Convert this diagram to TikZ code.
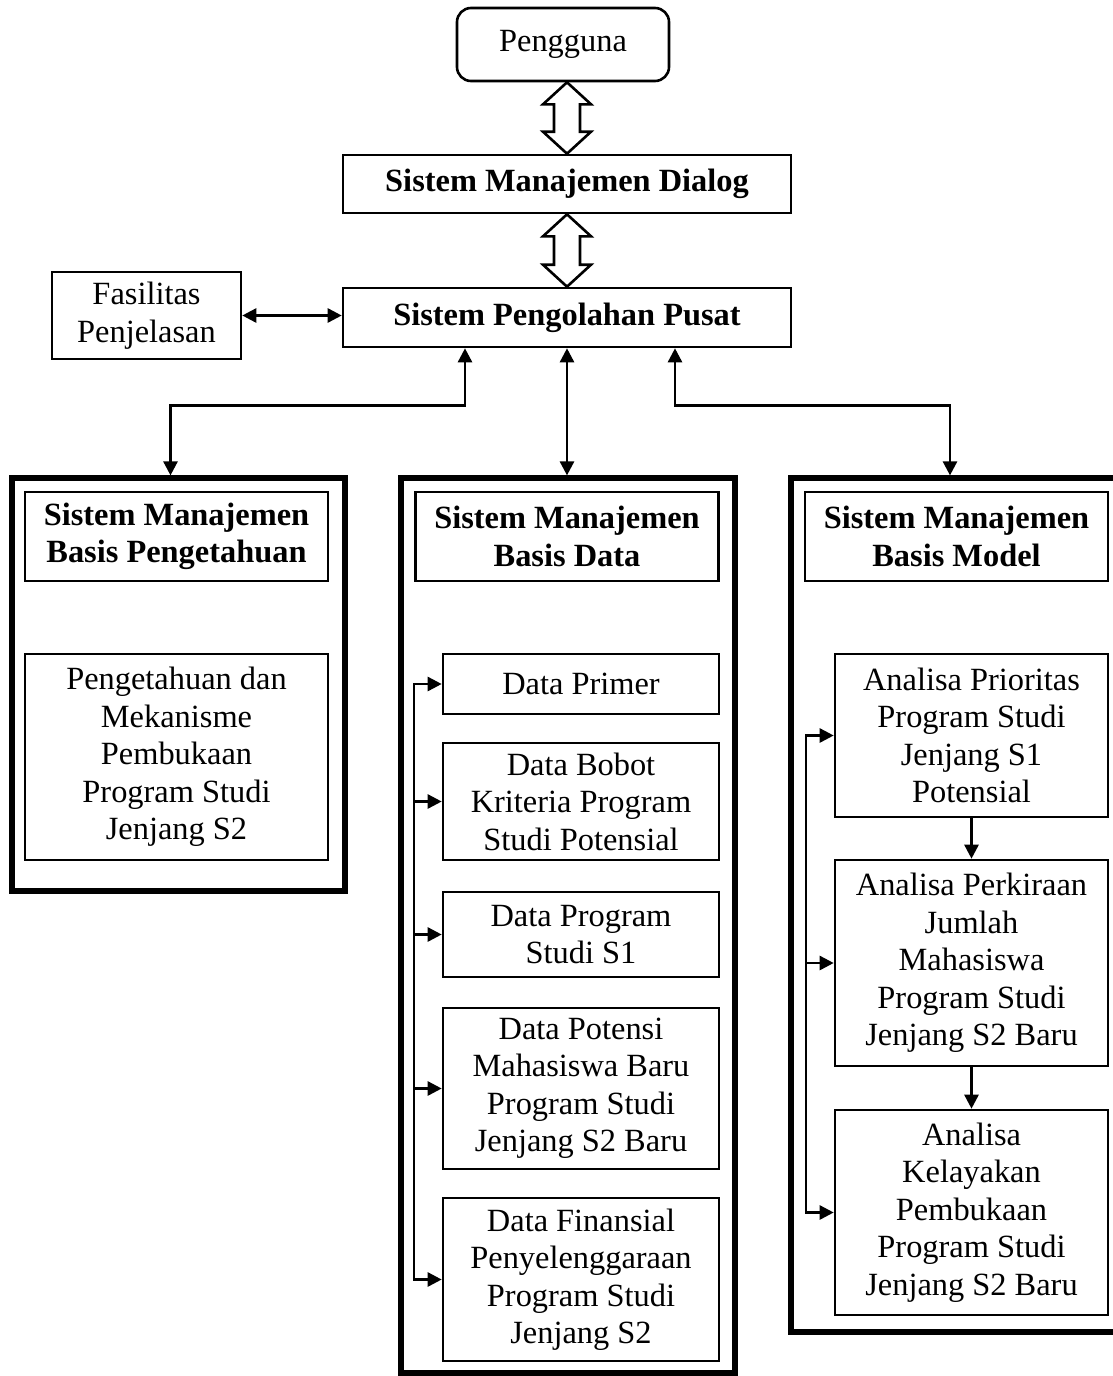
\documentclass[tikz,border=0pt]{standalone}
\usepackage{fontspec}
\setmainfont{Liberation Serif}
\usetikzlibrary{arrows.meta,calc}

\begin{document}
\begin{tikzpicture}[x=.5pt,y=-.5pt,
  txtbox/.style={draw,line width=1.3pt,align=center,inner sep=0pt,fill=white,
    font=\fontsize{16.2}{18.75}\selectfont},
  titlebox/.style={txtbox,font=\fontsize{16.2}{18.75}\selectfont\bfseries},
  colbox/.style={draw,line width=2.6pt,inner sep=0pt},
  link/.style={line width=1.3pt,-{Triangle[length=7pt,width=7pt]}},
  twoway/.style={line width=1.3pt,{Triangle[length=7pt,width=7pt]}-{Triangle[length=7pt,width=7pt]}}]

\useasboundingbox (0,0) rectangle (1113,1376);

\def\hollow#1#2{\draw[line width=1.3pt,fill=white,line join=miter]
  (#1) -- ++(24,22) -- ++(-11,0) -- ($(#2)+(13,-22)$) -- ++(11,0) -- (#2)
  -- ++(-24,-22) -- ++(11,0) -- ($(#1)+(-13,22)$) -- ++(-11,0) -- cycle;}

% top part
\node[txtbox,rounded corners=7pt,minimum width=106pt,minimum height=36.5pt] (user) at (563,44.5) {Pengguna};
\node[titlebox,minimum width=224pt,minimum height=29pt] (dialog) at (567,184) {Sistem Manajemen Dialog};
\node[titlebox,minimum width=224pt,minimum height=29.5pt] (pusat) at (567,317.5) {Sistem Pengolahan Pusat};
\node[txtbox,minimum width=94.5pt,minimum height=43.5pt] (fasilitas) at (146.5,315.5) {Fasilitas\\Penjelasan};

% three columns
\node[colbox,minimum width=166.5pt,minimum height=206.5pt] (kbase) at (178.5,684.5) {};
\node[colbox,minimum width=167pt,minimum height=447.5pt] (dbase) at (568,925.5) {};
\node[colbox,minimum width=166.5pt,minimum height=427pt] (mbase) at (957.5,905) {};

\node[titlebox,minimum width=151.5pt,minimum height=44.5pt] (khead) at (176.5,536.5) {Sistem Manajemen\\Basis Pengetahuan};
\node[titlebox,minimum width=151.5pt,minimum height=44.5pt] (dhead) at (567,536.5) {Sistem Manajemen\\Basis Data};
\node[titlebox,minimum width=151.5pt,minimum height=44.5pt] (mhead) at (956.5,536.5) {Sistem Manajemen\\Basis Model};

\node[txtbox,minimum width=151.5pt,minimum height=103pt] (k1) at (176.5,757) {Pengetahuan dan\\Mekanisme\\Pembukaan\\Program Studi\\Jenjang S2};

\node[txtbox,minimum width=138pt,minimum height=30pt] (d1) at (581,684) {Data Primer};
\node[txtbox,minimum width=138pt,minimum height=58.5pt] (d2) at (581,801.5) {Data Bobot\\Kriteria Program\\Studi Potensial};
\node[txtbox,minimum width=138pt,minimum height=42.5pt] (d3) at (581,934.5) {Data Program\\Studi S1};
\node[txtbox,minimum width=138pt,minimum height=80.5pt] (d4) at (581,1088.5) {Data Potensi\\Mahasiswa Baru\\Program Studi\\Jenjang S2 Baru};
\node[txtbox,minimum width=138pt,minimum height=81.5pt] (d5) at (581,1279.5) {Data Finansial\\Penyelenggaraan\\Program Studi\\Jenjang S2};

\node[txtbox,minimum width=136.5pt,minimum height=81.5pt] (m1) at (971.5,735.5) {Analisa Prioritas\\Program Studi\\Jenjang S1\\Potensial};
\node[txtbox,minimum width=136.5pt,minimum height=103pt] (m2) at (971.5,963) {Analisa Perkiraan\\Jumlah\\Mahasiswa\\Program Studi\\Jenjang S2 Baru};
\node[txtbox,minimum width=136.5pt,minimum height=102.5pt] (m3) at (971.5,1212.5) {Analisa\\Kelayakan\\Pembukaan\\Program Studi\\Jenjang S2 Baru};

% connectors
\hollow{dialog.north |- user.south}{dialog.north}
\hollow{pusat.north |- dialog.south}{pusat.north}

\draw[twoway] (fasilitas.east) -- (fasilitas.east -| pusat.west);
\draw[twoway] ([xshift=-51pt]pusat.south) -- ++(0,57) -| ([xshift=-4pt]kbase.north);
\draw[twoway] (pusat.south) -- (pusat.south |- dbase.north);
\draw[twoway] ([xshift=54pt]pusat.south) -- ++(0,57) -| ([xshift=-3.75pt]mbase.north);

\coordinate (dbus) at (414,0);
\draw[line width=1.3pt,line cap=rect] (dbus |- d1.west) -- (dbus |- d5.west);
\foreach \n in {d1,d2,d3,d4,d5}
  \draw[link] (dbus |- \n.west) -- (\n.west);

\coordinate (mbus) at (806,0);
\draw[line width=1.3pt,line cap=rect] (mbus |- m1.west) -- (mbus |- m3.west);
\foreach \n in {m1,m2,m3}
  \draw[link] (mbus |- \n.west) -- (\n.west);

\draw[link] (m1.south) -- (m2.north);
\draw[link] (m2.south) -- (m3.north);
\end{tikzpicture}
\end{document}
